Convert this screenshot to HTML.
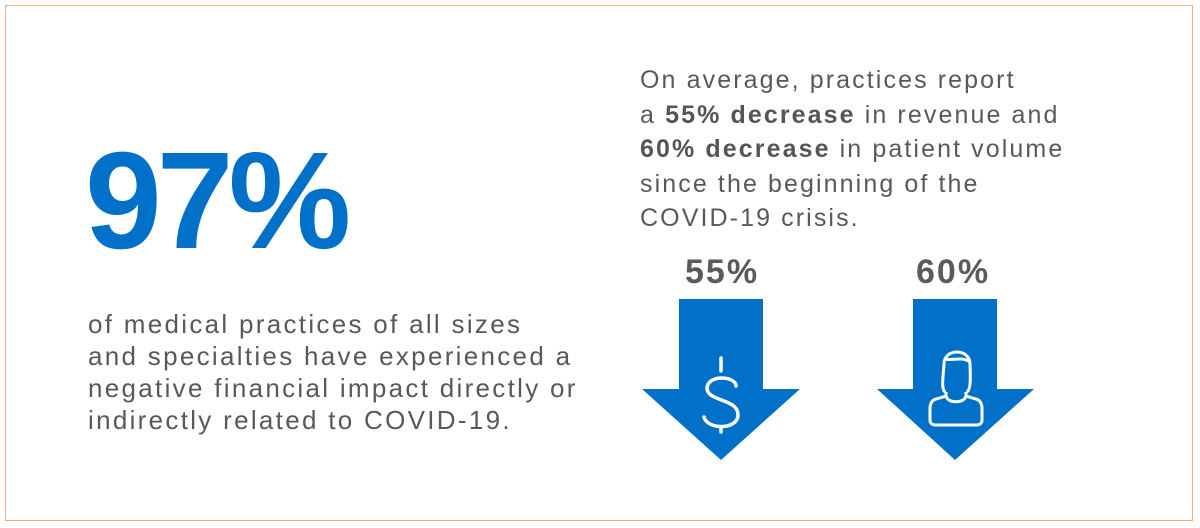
<!DOCTYPE html>
<html><head><style>
body{margin:0;width:1200px;height:528px;background:#fff;position:relative;overflow:hidden;font-family:"Liberation Sans",Arial,sans-serif;}
.frame{position:absolute;left:5px;top:5px;width:1188px;height:516px;border:1.5px solid #f4ad74;box-sizing:border-box;}
.big{position:absolute;left:85px;top:121px;font-size:138px;font-weight:bold;color:#0070c8;letter-spacing:-5px;line-height:160px;}
.lp{position:absolute;left:88px;top:308px;font-size:26px;letter-spacing:2.3px;line-height:32px;color:#595959;}
.rp{position:absolute;left:640px;top:63px;font-size:25px;letter-spacing:2.1px;line-height:34.5px;color:#595959;}
.rp b{color:#555;}
.pct{position:absolute;top:252px;font-size:34px;font-weight:bold;color:#5b5b5b;line-height:40px;letter-spacing:2px;}
</style></head><body>
<div class="frame"></div>
<div class="big">97%</div>
<div class="lp">of medical practices of all sizes<br>and specialties have experienced a<br>negative financial impact directly or<br>indirectly related to COVID-19.</div>
<div class="rp">On average, practices report<br>a <b>55% decrease</b> in revenue and<br><b>60% decrease</b> in patient volume<br>since the beginning of the<br>COVID-19 crisis.</div>
<div class="pct" style="left:685px">55%</div>
<div class="pct" style="left:916px">60%</div>
<svg width="1200" height="528" style="position:absolute;left:0;top:0">
<polygon points="679,299 763,299 763,389 800,389 721,460 642,389 679,389" fill="#0070c8"/>
<polygon points="913,299 997,299 997,389 1034,389 955,460 877,389 913,389" fill="#0070c8"/>
<g fill="none" stroke="#fff" stroke-width="3.5" stroke-linecap="round">
<path d="M736,386 C736,376 708,374 707,388 C707,402 738,398 738,415 C738,430 707,430 704,417"/>
<line x1="721" y1="358" x2="721" y2="371"/>
<line x1="721" y1="428" x2="721" y2="432"/>
</g>
<g fill="none" stroke="#fff" stroke-width="3">
<path d="M946,392 C940,392 944,370 944,364 C944,348 970,348 970,364 C970,370 972,392 966,392"/>
<path d="M946,392 L946,395 C946,404 966,404 966,395 L966,392"/>
<path d="M945,359 C952,361 962,356 970,362"/>
<path d="M946,396 L936,399 C932,400 930,404 930,408 L930,420 C930,423 932,425 935,425 L977,425 C980,425 982,423 982,420 L982,408 C982,404 980,400 976,399 L966,396"/>
</g>
</svg>
</body></html>
